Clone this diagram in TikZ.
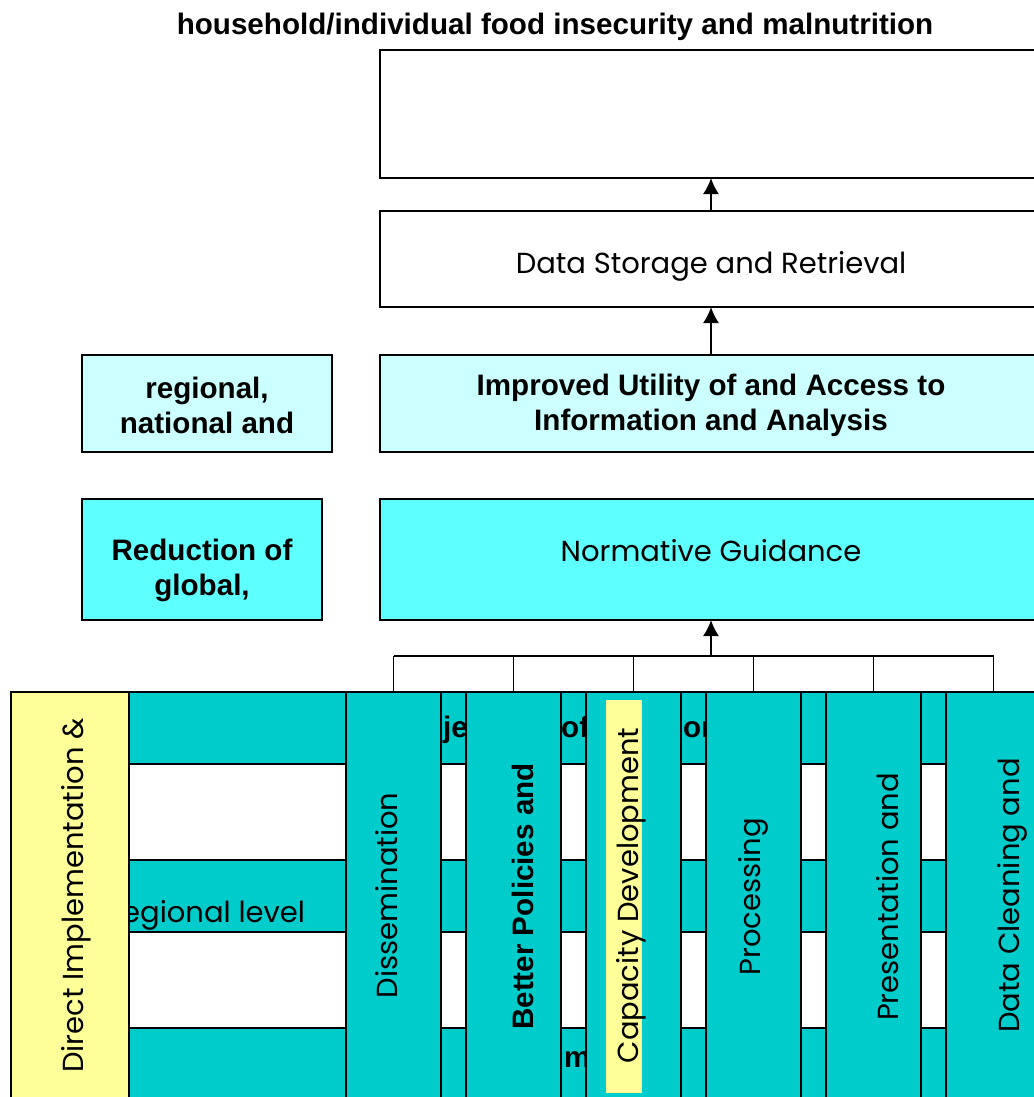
\documentclass[tikz,border=0pt]{standalone}
\usepackage{fontspec}
\setmainfont{Liberation Sans}
\newfontfamily\geofont{Poppins}
\usetikzlibrary{arrows.meta}
\definecolor{paleaqua}{HTML}{CCFFFF}
\definecolor{brightaqua}{HTML}{5EFFFF}
\definecolor{tealband}{RGB}{0,204,204}
\definecolor{softyellow}{HTML}{FFFF99}
\begin{document}
\begin{tikzpicture}[x=1pt,y=-1pt,
  frame/.style={draw=black, line width=1.8pt, inner sep=0pt, outer sep=0pt, anchor=north west},
  boldtxt/.style={font=\fontsize{29.6}{35}\selectfont\bfseries, align=center, inner sep=0pt},
  thintxt/.style={font=\geofont\fontsize{29}{35}\selectfont, inner sep=0pt},
  upright/.style={rotate=90, anchor=base},
  link/.style={line width=1.8pt},
  uparrow/.style={line width=1.8pt, -{Latex[length=16pt,width=16pt]}},
  column/.style={frame, fill=tealband, minimum width=95, minimum height=420},
]
\useasboundingbox (0,0) rectangle (1033,1097);

% heading
\node[boldtxt, anchor=base] (title) at (555,35) {household/individual food insecurity and malnutrition};

% stacked boxes of the upper part
\node[frame, fill=white, minimum width=662, minimum height=128] (goal) at (380,50) {};
\node[frame, fill=white, minimum width=662, minimum height=96] (store) at (380,211) {};
\node[thintxt, anchor=base] (storetxt) at (711,273) {Data Storage and Retrieval};
\node[frame, fill=paleaqua, minimum width=662, minimum height=97] (access) at (380,355) {};
\node[boldtxt] (accesstxt) at (711,405) {Improved Utility of and Access to\\Information and Analysis};
\node[frame, fill=paleaqua, minimum width=250, minimum height=97] (scope) at (82,355) {};
\node[boldtxt] (scopetxt) at (207,405) {regional,\\national and};
\node[frame, fill=brightaqua, minimum width=662, minimum height=121] (norm) at (380,499) {};
\node[thintxt, anchor=base] (normtxt) at (711,561) {Normative Guidance};
\node[frame, fill=brightaqua, minimum width=240, minimum height=121] (reduce) at (82,499) {};
\node[boldtxt] (reducetxt) at (202,570) {Reduction of\\global,};

\draw[uparrow] (store.north) -- (goal.south);
\draw[uparrow] (access.north) -- (store.south);

% banded table behind the columns
\draw[line width=1.8pt, fill=tealband] (129,692) rectangle (1045,764);
\draw[line width=1.8pt, fill=white] (129,764) rectangle (1045,860);
\draw[line width=1.8pt, fill=tealband] (129,860) rectangle (1045,932);
\draw[line width=1.8pt, fill=white] (129,932) rectangle (1045,1028);
\draw[line width=1.8pt, fill=tealband] (129,1028) rectangle (1045,1110);

\node[boldtxt, anchor=base west] (fragje) at (443,737) {je};
\node[boldtxt, anchor=base west] (fragof) at (561,737) {of};
\node[boldtxt, anchor=base west] (fragor) at (683,737) {or};
\node[boldtxt, anchor=base west] (fragm) at (564,1067) {m};
\node[thintxt, anchor=base west] (fragreg) at (122,922) {egional level};

% vertical columns
\node[frame, fill=softyellow, minimum width=118, minimum height=420] (direct) at (11,692) {};
\node[column] (dissem) at (346,692) {};
\node[column] (policy) at (466,692) {};
\node[column] (capac) at (586,692) {};
\node[column] (proc) at (706,692) {};
\node[column] (present) at (826,692) {};
\node[column] (clean) at (946,692) {};

\node[fill=softyellow, rotate=90, minimum width=393, minimum height=36, inner sep=0pt] (capbg) at (624,896.5) {};

\node[thintxt, upright] (directtxt) at (83,895.5) {Direct Implementation \&};
\node[thintxt, upright] (dissemtxt) at (397,895.5) {Dissemination};
\node[boldtxt, upright] (policytxt) at (533,896.5) {Better Policies and};
\node[thintxt, upright] (capactxt) at (638,895.5) {Capacity Development};
\node[thintxt, upright] (proctxt) at (760,896.5) {Processing};
\node[thintxt, upright] (presenttxt) at (898,897) {Presentation and};
\node[thintxt, upright] (cleantxt) at (1019,895.5) {Data Cleaning and};

% bracket joining the columns to Normative Guidance
\coordinate (hub) at (711,656);
\draw[link] (dissem.north |- hub) -- (clean.north |- hub);
\foreach \c in {dissem,policy,capac,proc,present,clean}
  \draw[link] (\c.north) -- (\c.north |- hub);
\draw[uparrow] (hub) -- (norm.south);
\end{tikzpicture}
\end{document}
